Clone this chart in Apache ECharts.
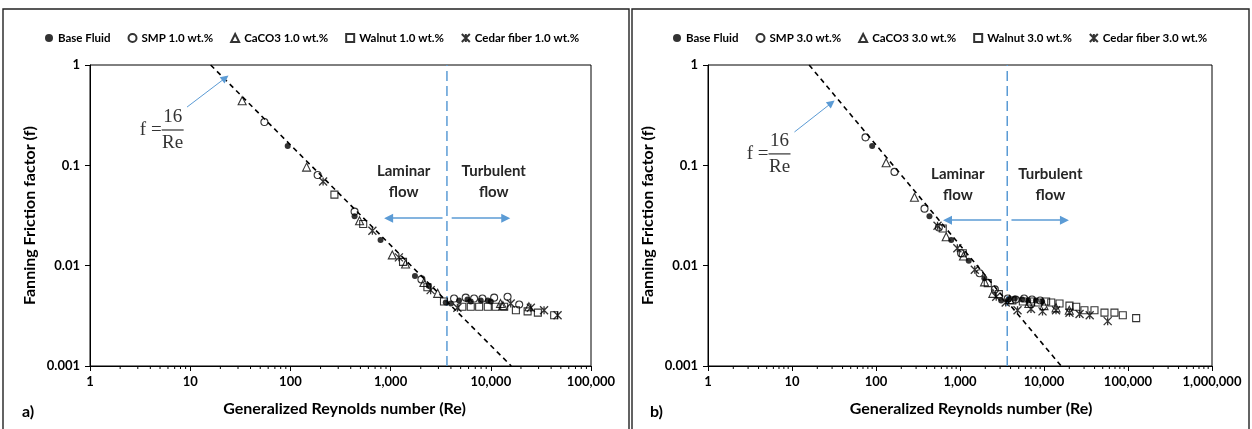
<!DOCTYPE html>
<html>
<head>
<meta charset="utf-8">
<script src="https://cdn.jsdelivr.net/npm/echarts@6/dist/echarts.min.js"></script>
<style>
  html, body { margin: 0; padding: 0; background: #fff; }
  #chart { width: 1252px; height: 429px; }
</style>
</head>
<body>
<div id="chart"></div>
<script>
// ---- Data: [Generalized Reynolds number, Fanning friction factor] ----
// Panel a) 1.0 wt.% additives
const baseFluid1 = [[94,0.156],[437,0.031],[794,0.018],[1750,0.0079],[2400,0.0063],[3550,0.0043],[4000,0.0042],[4820,0.0045],[5850,0.0046],[6310,0.0044],[7940,0.0045],[9330,0.0045],[10000,0.0044]];
const smp1 = [[55,0.27],[187,0.080],[437,0.0346],[2030,0.0073],[4300,0.0047],[5620,0.0048],[6810,0.0047],[8250,0.0047],[10800,0.0048],[14700,0.0049],[19200,0.0041]];
const caco3_1 = [[33,0.44],[145,0.096],[490,0.028],[1040,0.0128],[1410,0.0104],[2150,0.0068],[2950,0.0053],[12500,0.0042],[13200,0.0040],[24000,0.0039]];
const walnut1 = [[275,0.051],[533,0.026],[1330,0.0109],[2330,0.0061],[3410,0.0044],[5200,0.0039],[6310,0.0039],[7650,0.0039],[9330,0.0039],[11200,0.0039],[13600,0.0039],[17800,0.0036],[23300,0.0035],[29500,0.0034],[42900,0.0032]];
const cedar1 = [[212,0.069],[658,0.0223],[1210,0.0121],[2510,0.0057],[4640,0.0038],[15800,0.0042],[25100,0.0038],[34000,0.0036],[46400,0.0032]];

// Panel b) 3.0 wt.% additives
const baseFluid3 = [[90,0.156],[433,0.031],[786,0.018],[1270,0.0112],[1950,0.0075],[3090,0.0045],[3800,0.0046],[4500,0.0047],[5500,0.0046],[6500,0.0045],[8000,0.0045],[9500,0.0044]];
const smp3 = [[75,0.19],[166,0.086],[378,0.037],[560,0.024],[1030,0.0133],[1710,0.0084],[2600,0.0058],[3700,0.0047],[4600,0.0046],[5800,0.0047],[7200,0.0046],[9000,0.0045]];
const caco3_3 = [[132,0.106],[287,0.048],[685,0.0194],[1100,0.0125],[1960,0.0069],[2460,0.0053],[3900,0.0046],[6600,0.0042],[10000,0.0040],[13900,0.0038],[20000,0.0036]];
const walnut3 = [[623,0.0235],[1080,0.0133],[2140,0.0067],[2900,0.0052],[4200,0.0045],[5600,0.0044],[7000,0.0044],[8500,0.0043],[10600,0.0044],[12200,0.0043],[15300,0.0042],[20100,0.0040],[24200,0.0039],[30300,0.0036],[39900,0.0036],[52500,0.0034],[69000,0.0034],[86700,0.0032],[125000,0.0030]];
const cedar3 = [[540,0.025],[930,0.0149],[1500,0.0091],[2700,0.0049],[3500,0.0043],[4840,0.0036],[7000,0.0037],[9600,0.0035],[13900,0.0036],[20100,0.0034],[26500,0.0033],[35000,0.0032],[57300,0.0028]];

const names1 = ['Base Fluid', 'SMP 1.0 wt.%', 'CaCO3 1.0 wt.%', 'Walnut 1.0 wt.%', 'Cedar fiber 1.0 wt.%'];
const names3 = ['Base Fluid', 'SMP 3.0 wt.%', 'CaCO3 3.0 wt.%', 'Walnut 3.0 wt.%', 'Cedar fiber 3.0 wt.%'];

// Laminar correlation f = 16/Re, drawn between these two points
const laminarLine = [[16, 1], [16000, 0.001]];
// Laminar / turbulent transition Reynolds number
const transitionRe = 3650;

// Axis ticks
const xTickLabels = ['1', '10', '100', '1,000', '10,000', '100,000', '1,000,000'];
const yTickLabels = ['0.001', '0.01', '0.1', '1'];
const minorMultipliers = [2, 3, 4, 5, 6, 7, 8, 9];

// Annotation anchors in data coordinates, per panel
const panels = [
  {
    xMax: 100000, letter: 'a)',
    formulaArrow: [[9.3, 0.381], [22.4, 0.742]],
    formulaAt: [6.68, 0.225],
    laminarText: [1350, 0.068], turbulentText: [10700, 0.068],
    laminarArrow: [[3300, 0.0297], [955, 0.0297]],
    turbulentArrow: [[4070, 0.0297], [14100, 0.0297]]
  },
  {
    xMax: 1000000, letter: 'b)',
    formulaArrow: [[10.7, 0.215], [29.5, 0.418]],
    formulaAt: [7.1, 0.13],
    laminarText: [942, 0.0636], turbulentText: [11900, 0.0636],
    laminarArrow: [[3100, 0.0284], [710, 0.0284]],
    turbulentArrow: [[4100, 0.0284], [17500, 0.0284]]
  }
];

const FONT = 'Lato, "Open Sans", sans-serif';
const BLUE = '#5B9BD5';
const chart = echarts.init(document.getElementById('chart'), null, { renderer: 'canvas' });

const gridBoxes = [
  { left: 90, top: 65, width: 501, height: 301 },
  { left: 708, top: 65, width: 504, height: 301 }
];

const markerStyles = [
  { symbol: 'circle', symbolSize: 6, itemStyle: { color: '#000', borderColor: '#000', borderWidth: 0 } },
  { symbol: 'circle', symbolSize: 7, itemStyle: { color: 'rgba(0,0,0,0)', borderColor: '#000', borderWidth: 1.1 } },
  { symbol: 'triangle', symbolSize: 8, itemStyle: { color: 'rgba(0,0,0,0)', borderColor: '#000', borderWidth: 1.1 } },
  { symbol: 'rect', symbolSize: 7, itemStyle: { color: 'rgba(0,0,0,0)', borderColor: '#000', borderWidth: 1.1 } },
  { symbol: 'path://M0,0L10,10M10,0L0,10M5,0L5,10', symbolSize: 8, itemStyle: { color: 'rgba(0,0,0,0)', borderColor: '#000', borderWidth: 1.3 } }
];

function minorTickData(xMax) {
  const out = [];
  for (let d = 1; d < xMax; d *= 10) {
    minorMultipliers.forEach(m => out.push([m * d, 0.001]));
  }
  return out;
}

const series = [];
const panelData = [
  [baseFluid1, smp1, caco3_1, walnut1, cedar1],
  [baseFluid3, smp3, caco3_3, walnut3, cedar3]
];
const panelNames = [names1, names3];

panels.forEach((p, i) => {
  // f = 16/Re reference line
  series.push({
    type: 'line', xAxisIndex: i, yAxisIndex: i, data: laminarLine,
    showSymbol: false, silent: true, z: 1,
    lineStyle: { color: '#000', width: 1.6, type: [5, 4] }
  });
  // transition line plus blue annotation arrows
  series.push({
    type: 'line', xAxisIndex: i, yAxisIndex: i,
    data: [[transitionRe, 0.001], [transitionRe, 1]],
    showSymbol: false, silent: true, z: 1,
    lineStyle: { color: BLUE, width: 1.5, type: [10, 5] },
    markLine: {
      silent: true, symbol: ['none', 'triangle'], symbolSize: 9,
      label: { show: false },
      lineStyle: { color: BLUE, width: 1.6, type: 'solid' },
      data: [
        [{ coord: p.laminarArrow[0] }, { coord: p.laminarArrow[1] }],
        [{ coord: p.turbulentArrow[0] }, { coord: p.turbulentArrow[1] }],
        [{ coord: p.formulaArrow[0], lineStyle: { width: 1 } }, { coord: p.formulaArrow[1], symbolSize: 8 }]
      ]
    }
  });
  // minor ticks on the logarithmic Re axis
  series.push({
    type: 'custom', xAxisIndex: i, yAxisIndex: i, silent: true, z: 5,
    data: minorTickData(p.xMax),
    renderItem: (params, api) => {
      const pt = api.coord([api.value(0), api.value(1)]);
      return { type: 'line', shape: { x1: pt[0], y1: pt[1], x2: pt[0], y2: pt[1] + 3 },
               style: { stroke: '#000', lineWidth: 1 } };
    }
  });
  panelData[i].forEach((d, k) => {
    series.push(Object.assign({
      type: 'scatter', name: panelNames[i][k], xAxisIndex: i, yAxisIndex: i,
      data: d, z: 3
    }, markerStyles[k]));
  });
});

const axisText = { color: '#000', fontFamily: FONT, fontWeight: 'bold', fontSize: 13 };
const titleText = { color: '#000', fontFamily: FONT, fontWeight: 'bold', fontSize: 16 };

const option = {
  animation: false,
  backgroundColor: '#fff',
  grid: gridBoxes.map(g => Object.assign({ show: true, borderColor: '#000', borderWidth: 1, backgroundColor: 'transparent' }, g)),
  legend: [0, 1].map(i => ({
    data: panelNames[i], top: 27, left: i === 0 ? 40 : 668,
    itemGap: 17, itemWidth: 8, itemHeight: 8, selectedMode: false,
    textStyle: { color: '#000', fontFamily: FONT, fontWeight: 'bold', fontSize: 11.5 }
  })),
  xAxis: panels.map((p, i) => ({
    type: 'log', logBase: 10, gridIndex: i, min: 1, max: p.xMax,
    splitNumber: Math.round(Math.log10(p.xMax)),
    axisLine: { show: true, onZero: false, lineStyle: { color: '#000', width: 1 } },
    axisTick: { show: true, length: 5, lineStyle: { color: '#000' } },
    axisLabel: Object.assign({ margin: 9, formatter: v => xTickLabels[Math.round(Math.log10(v))] }, axisText),
    splitLine: { show: false },
    name: 'Generalized Reynolds number (Re)', nameLocation: 'middle', nameGap: 35,
    nameTextStyle: Object.assign({ padding: [0, 0, 0, i === 0 ? 8 : 22] }, titleText)
  })),
  yAxis: panels.map((p, i) => ({
    type: 'log', logBase: 10, gridIndex: i, min: 0.001, max: 1, splitNumber: 3,
    axisLine: { show: true, onZero: false, lineStyle: { color: '#000', width: 1 } },
    axisTick: { show: true, length: 5, lineStyle: { color: '#000' } },
    axisLabel: Object.assign({ margin: 10, formatter: v => yTickLabels[Math.round(Math.log10(v)) + 3] }, axisText),
    splitLine: { show: false },
    name: 'Fanning Friction factor (f)', nameLocation: 'middle', nameGap: 52,
    nameTextStyle: titleText
  })),
  series: series
};

chart.setOption(option);

// Text annotations placed from data coordinates
function annotations() {
  const els = [];
  // panel frames
  els.push({ type: 'rect', shape: { x: 3, y: 9, width: 626, height: 440 }, style: { fill: 'none', stroke: '#222', lineWidth: 1.4 }, silent: true });
  els.push({ type: 'rect', shape: { x: 632, y: 9, width: 617, height: 440 }, style: { fill: 'none', stroke: '#222', lineWidth: 1.4 }, silent: true });
  panels.forEach((p, i) => {
    const toPx = c => chart.convertToPixel({ xAxisIndex: i, yAxisIndex: i }, c);
    const [fx, fy] = toPx(p.formulaAt);
    const serif = '"Liberation Serif", "DejaVu Serif", serif';
    els.push({ type: 'text', x: fx - 11, y: fy, silent: true,
      style: { text: 'f =', font: '19px ' + serif, fill: '#333', align: 'right', verticalAlign: 'middle' } });
    els.push({ type: 'text', x: fx, y: fy - 13, silent: true,
      style: { text: '16', font: '19px ' + serif, fill: '#333', align: 'center', verticalAlign: 'middle' } });
    els.push({ type: 'line', silent: true, shape: { x1: fx - 11, y1: fy, x2: fx + 11, y2: fy },
      style: { stroke: '#333', lineWidth: 1.2 } });
    els.push({ type: 'text', x: fx, y: fy + 13, silent: true,
      style: { text: 'Re', font: '19px ' + serif, fill: '#333', align: 'center', verticalAlign: 'middle' } });
    const flowFont = 'bold 15px ' + FONT;
    const [lx, ly] = toPx(p.laminarText);
    els.push({ type: 'text', x: lx, y: ly, silent: true,
      style: { text: 'Laminar\nflow', font: flowFont, lineHeight: 21, fill: '#262626', align: 'center', verticalAlign: 'middle' } });
    const [tx, ty] = toPx(p.turbulentText);
    els.push({ type: 'text', x: tx, y: ty, silent: true,
      style: { text: 'Turbulent\nflow', font: flowFont, lineHeight: 21, fill: '#262626', align: 'center', verticalAlign: 'middle' } });
    els.push({ type: 'text', x: i === 0 ? 22 : 650, y: 412, silent: true,
      style: { text: p.letter, font: 'bold 16px ' + FONT, fill: '#000', align: 'left', verticalAlign: 'middle' } });
  });
  chart.setOption({ graphic: { elements: els } });
}
annotations();
</script>
</body>
</html>
